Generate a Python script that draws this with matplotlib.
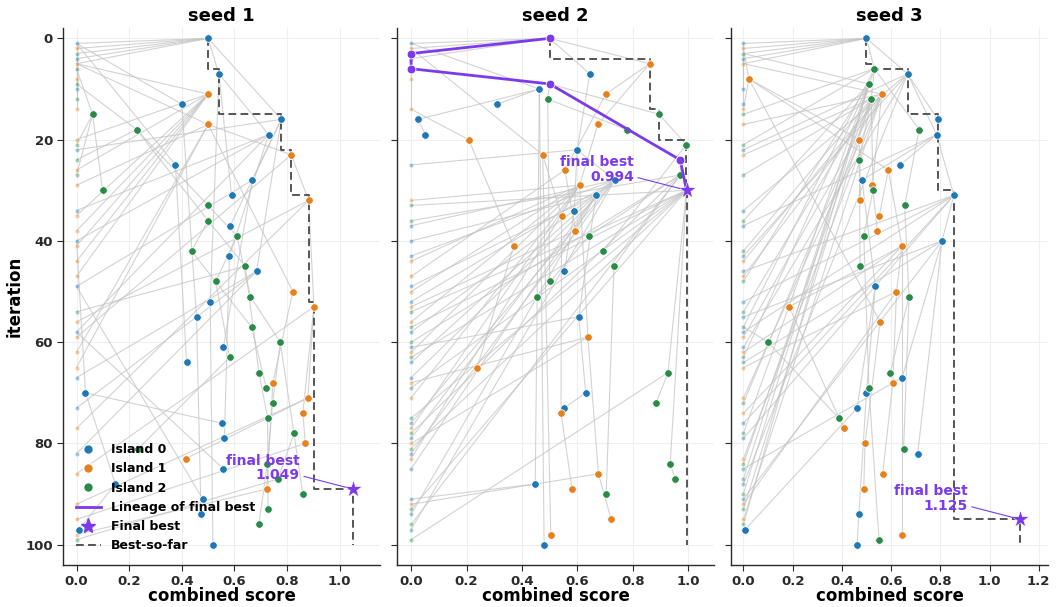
import numpy as np
import matplotlib
matplotlib.use("Agg")
import matplotlib.pyplot as plt
from matplotlib.collections import LineCollection
from matplotlib.lines import Line2D

# ---------------------------------------------------------------- data
SEED_NAMES = ["seed 1", "seed 2", "seed 3"]

# island that produced each iteration (0..100)
ISLAND = [0,
          0, 1, 2, 0, 1, 2, 0, 1, 2, 0, 1, 2, 0, 1, 2, 0, 1, 2, 0, 1, 2,
          0, 1, 2, 0, 1, 2, 0, 1, 2, 0, 1, 2, 0, 1, 2, 0, 1, 2, 0, 1, 2,
          0, 1, 2, 0, 1, 2, 0, 1, 2, 0, 1, 2, 0, 1, 2, 0, 1, 2, 0, 1, 2,
          0, 1, 2, 0, 1, 2, 0, 1, 2, 0, 1, 2, 0, 1, 2, 0, 1, 2, 0, 1, 2,
          0, 1, 2, 0, 1, 2, 0, 1, 2, 0, 1, 2, 0, 1, 2,
          0]

# combined score per iteration (0 = failed program)
SCORES_1 = [0.50, 0, 0, 0, 0, 0, 0, 0.541, 0, 0,
            0, 0.50, 0, 0.400, 0, 0.061, 0.778, 0.50, 0.228, 0.730,
            0, 0, 0, 0.816, 0, 0.376, 0, 0, 0.668, 0,
            0.099, 0.589, 0.882, 0.50, 0, 0, 0.50, 0.584, 0, 0.609,
            0, 0, 0.437, 0.581, 0, 0.641, 0.684, 0, 0.529, 0,
            0.822, 0.661, 0.508, 0.902, 0, 0.456, 0, 0.665, 0, 0,
            0.774, 0.558, 0, 0.582, 0.418, 0, 0.693, 0, 0.746, 0.721,
            0.034, 0.879, 0.745, 0, 0.860, 0.726, 0.552, 0, 0.826, 0.562,
            0.869, 0.235, 0, 0.415, 0.725, 0.558, 0, 0.766, 0.148, 0.723,
            0.860, 0.480, 0, 0.728, 0.473, 0, 0.693, 0.009, 0, 0,
            0.518]

SCORES_2 = [0.50, 0, 0, 0, 0, 0.861, 0, 0.645, 0, 0.50,
            0.463, 0.703, 0.493, 0.310, 0, 0.895, 0.025, 0.674, 0.778, 0.051,
            0.208, 0.993, 0.599, 0.475, 0.971, 0, 0.555, 0.971, 0.735, 0.608,
            0.994, 0.667, 0, 0, 0.589, 0.543, 0, 0, 0.593, 0.642,
            0, 0.370, 0.693, 0, 0, 0.732, 0.553, 0, 0.50, 0,
            0, 0.456, 0, 0, 0, 0.605, 0, 0, 0, 0.638,
            0, 0, 0, 0, 0, 0.239, 0.927, 0, 0, 0,
            0.630, 0, 0.884, 0.552, 0.541, 0, 0, 0, 0, 0,
            0, 0, 0, 0, 0.935, 0, 0.676, 0.953, 0.448, 0.581,
            0.704, 0, 0, 0, 0, 0.722, 0, 0, 0.504, 0,
            0.480]

SCORES_3 = [0.50, 0, 0, 0, 0, 0, 0.532, 0.667, 0.022, 0.509,
            0, 0.562, 0.519, 0, 0, 0, 0.789, 0, 0.714, 0.785,
            0.471, 0, 0, 0, 0.471, 0.637, 0.589, 0, 0.482, 0.524,
            0.527, 0.855, 0.475, 0.655, 0, 0.552, 0, 0, 0.544, 0.489,
            0.807, 0.644, 0, 0, 0, 0.474, 0, 0, 0, 0.536,
            0.622, 0.673, 0, 0.186, 0, 0, 0.555, 0, 0, 0,
            0.100, 0, 0, 0, 0, 0, 0.597, 0.645, 0.607, 0.510,
            0.500, 0, 0, 0.462, 0, 0.387, 0, 0.407, 0, 0,
            0.494, 0.651, 0.708, 0, 0, 0, 0.566, 0, 0, 0.489,
            0, 0, 0, 0, 0.469, 0, 0, 0.007, 0.644, 0.551,
            0.462]

# parent iteration of each program (-1 = root)
PARENTS_1 = [-1, 0, 0, 0, 0, 0, 3, 0, 5, 3,
             1, 5, 6, 1, 5, 6, 0, 5, 9, 7,
             11, 15, 16, 17, 18, 1, 11, 15, 16, 17,
             15, 7, 23, 18, 19, 11, 18, 16, 11, 33,
             19, 11, 36, 19, 11, 36, 16, 11, 39, 28,
             17, 39, 7, 32, 45, 13, 32, 42, 19, 23,
             51, 28, 17, 48, 25, 17, 45, 46, 50, 57,
             40, 53, 60, 46, 53, 66, 70, 32, 60, 43,
             74, 63, 46, 71, 72, 58, 53, 78, 70, 68,
             78, 49, 71, 75, 55, 80, 84, 88, 89, 87,
             52]

PARENTS_2 = [-1, 0, 0, 0, 0, 0, 3, 0, 2, 6,
             1, 5, 9, 10, 8, 9, 10, 5, 12, 16,
             14, 15, 7, 2, 9, 22, 11, 24, 22, 17,
             24, 28, 29, 30, 22, 23, 27, 28, 26, 27,
             31, 20, 21, 28, 29, 27, 34, 26, 12, 31,
             29, 39, 28, 38, 30, 31, 29, 30, 28, 29,
             27, 55, 29, 30, 31, 41, 30, 28, 59, 30,
             55, 29, 66, 70, 35, 30, 28, 29, 27, 31,
             59, 30, 28, 29, 30, 31, 59, 84, 10, 74,
             45, 88, 86, 30, 31, 86, 27, 28, 23, 66,
             10]

PARENTS_3 = [-1, 0, 0, 0, 0, 0, 0, 0, 2, 3,
             1, 5, 6, 4, 8, 6, 7, 11, 6, 7,
             8, 6, 7, 11, 12, 19, 8, 12, 19, 11,
             12, 19, 20, 18, 7, 26, 9, 19, 29, 30,
             31, 26, 12, 7, 11, 24, 31, 11, 9, 28,
             41, 33, 31, 41, 12, 40, 8, 6, 31, 11,
             57, 7, 41, 9, 40, 50, 51, 40, 50, 39,
             49, 11, 12, 49, 41, 60, 31, 53, 9, 31,
             56, 51, 40, 11, 12, 67, 68, 6, 7, 80,
             9, 40, 50, 12, 70, 11, 9, 73, 41, 69,
             94]

# (iteration, combined score) of the final best program
FINAL_BEST = [(89, 1.049), (30, 0.994), (95, 1.125)]

ISLAND_NAMES = ["Island 0", "Island 1", "Island 2"]

# ---------------------------------------------------------------- style
ISLAND_COLORS = ["#1f77b4", "#e6821e", "#2a8a4a"]
PURPLE = "#7c3aed"
EDGE_GRAY = "#c4c4c4"
STEP_GRAY = "#555555"
AXIS_GRAY = "#2a2a2a"

plt.rcParams.update({
    "font.family": ["DejaVu Sans"],
    "font.weight": "bold",
    "axes.labelweight": "bold",
    "axes.titleweight": "bold",
})

fig, axes = plt.subplots(1, 3, figsize=(10.56, 6.07), dpi=100, sharey=True)
fig.subplots_adjust(left=0.06, right=0.9924, bottom=0.0692, top=0.9535,
                    wspace=0.0537)

island = np.array(ISLAND)
all_scores = [SCORES_1, SCORES_2, SCORES_3]
all_parents = [PARENTS_1, PARENTS_2, PARENTS_3]

for ax, name, scores, parents, (f_it, f_sc) in zip(
        axes, SEED_NAMES, all_scores, all_parents, FINAL_BEST):
    sc = np.array(scores, dtype=float)
    its = np.arange(len(sc))

    # parent -> child edges
    segs = [[(sc[p], p), (sc[i], i)] for i, p in enumerate(parents) if p >= 0]
    ax.add_collection(LineCollection(segs, colors=EDGE_GRAY, linewidths=0.8,
                                     alpha=0.75, zorder=1))

    # lineage of the final best (only when it is one of the recorded programs)
    lineage = []
    if np.isclose(sc[f_it], f_sc):
        node = f_it
        while node >= 0:
            lineage.append(node)
            node = parents[node]
        lineage = lineage[::-1]
    in_lineage = np.isin(its, lineage)

    for k, color in enumerate(ISLAND_COLORS):
        ok = (island == k) & (sc > 0) & ~in_lineage
        bad = (island == k) & (sc <= 0) & ~in_lineage
        ax.scatter(sc[bad], its[bad], s=9, color=color, alpha=0.4,
                   edgecolors="white", linewidths=0.3, zorder=2)
        ax.scatter(sc[ok], its[ok], s=30, color=color,
                   edgecolors="white", linewidths=0.6, zorder=3)

    if lineage:
        ax.plot(sc[lineage], lineage, color=PURPLE, lw=2.0, zorder=4)
        ax.scatter(sc[lineage[:-1]], lineage[:-1], s=40, color=PURPLE,
                   edgecolors="white", linewidths=0.6, zorder=5)

    # best-so-far, including the final best record
    rec_it = list(its)
    rec_sc = list(sc)
    if not np.isclose(sc[f_it], f_sc):
        rec_it.insert(f_it + 1, f_it)
        rec_sc.insert(f_it + 1, f_sc)
    best = np.maximum.accumulate(rec_sc)
    ax.plot(best, rec_it, drawstyle="steps-post", color=STEP_GRAY,
            lw=1.4, ls=(0, (4, 2.2)), zorder=2.5)

    ax.scatter([f_sc], [f_it], marker="*", s=170, color=PURPLE,
               edgecolors="white", linewidths=0.4, zorder=6)
    ax.annotate(f"final best\n{f_sc:.3f}", xy=(f_sc, f_it),
                xytext=(-38, 15), textcoords="offset points",
                ha="right", va="center", color=PURPLE, fontsize=10,
                fontweight="bold", linespacing=1.05,
                arrowprops=dict(arrowstyle="-", color=PURPLE, lw=0.8,
                                shrinkA=1, shrinkB=5, relpos=(1.0, 0.25)),
                zorder=7)

    xmax = 1.1 * max(sc.max(), f_sc)
    ax.set_xlim(-0.05, xmax)
    ax.set_xticks(np.arange(0, xmax, 0.2))
    ax.set_title(name, fontsize=13, pad=5)
    ax.set_xlabel("combined score", fontsize=12, labelpad=-1)
    ax.grid(True, color="#efefef", lw=0.8)
    ax.set_axisbelow(True)
    for side in ("top", "right"):
        ax.spines[side].set_visible(False)
    for side in ("left", "bottom"):
        ax.spines[side].set_color(AXIS_GRAY)
        ax.spines[side].set_linewidth(1.0)
    ax.tick_params(axis="both", length=4, width=0.8, color=AXIS_GRAY,
                   labelsize=9.5, labelcolor=AXIS_GRAY)

axes[0].set_ylim(104, -2)
axes[0].set_yticks([0, 20, 40, 60, 80, 100])
axes[0].set_ylabel("iteration", fontsize=12, labelpad=1)

handles = [Line2D([], [], ls="", marker="o", ms=7, color=c,
                  markeredgecolor="white", label=n)
           for c, n in zip(ISLAND_COLORS, ISLAND_NAMES)]
handles += [
    Line2D([], [], color=PURPLE, lw=2.0, label="Lineage of final best"),
    Line2D([], [], ls="", marker="*", ms=11, color=PURPLE,
           label="Final best"),
    Line2D([], [], color=STEP_GRAY, lw=1.4, ls=(0, (4, 2.2)),
           label="Best-so-far"),
]
axes[0].legend(handles=handles, loc="lower left", fontsize=9,
               frameon=False, handlelength=2.0, borderaxespad=0.6)

fig.savefig("out.png", dpi=100)
